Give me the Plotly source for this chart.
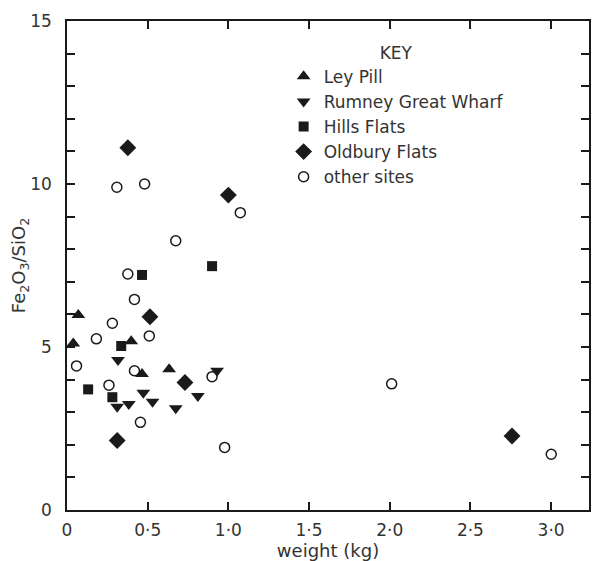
import plotly.graph_objects as go

# Data
ley_x = [0.070, 0.039, 0.398, 0.465, 0.633]
ley_y = [5.98, 5.11, 5.18, 4.17, 4.32]

rumney_x = [0.316, 0.930, 0.473, 0.811, 0.530, 0.383, 0.311, 0.674]
rumney_y = [4.60, 4.27, 3.60, 3.50, 3.32, 3.25, 3.17, 3.12]

hills_x = [0.899, 0.465, 0.336, 0.131, 0.281]
hills_y = [7.48, 7.21, 5.03, 3.70, 3.46]

oldbury_x = [0.377, 1.000, 0.514, 0.731, 0.311, 2.758]
oldbury_y = [11.11, 9.66, 5.93, 3.91, 2.13, 2.27]

other_x = [0.309, 0.481, 1.074, 0.674, 0.377, 0.418, 0.281, 0.182, 0.510,
           0.059, 0.418, 0.899, 0.260, 0.455, 0.977, 2.012, 3.001]
other_y = [9.90, 10.00, 9.12, 8.26, 7.24, 6.46, 5.73, 5.25, 5.34,
           4.42, 4.27, 4.09, 3.83, 2.69, 1.92, 3.87, 1.71]

x_tickvals = [0, 0.5, 1.0, 1.5, 2.0, 2.5, 3.0]
x_ticktext = ["0", "0·5", "1·0", "1·5", "2·0", "2·5", "3·0"]
y_tickvals = [0, 5, 10, 15]
y_ticktext = ["0", "5", "10", "15"]

INK = "#1a1a1a"
TXT = "#333"
FONT = "DejaVu Sans"

fig = go.Figure()
fig.add_trace(go.Scatter(x=ley_x, y=ley_y, mode="markers", name="Ley Pill",
                         marker=dict(symbol="triangle-up", size=12, color=INK)))
fig.add_trace(go.Scatter(x=rumney_x, y=rumney_y, mode="markers", name="Rumney Great Wharf",
                         marker=dict(symbol="triangle-down", size=12, color=INK)))
fig.add_trace(go.Scatter(x=hills_x, y=hills_y, mode="markers", name="Hills Flats",
                         marker=dict(symbol="square", size=10, color=INK)))
fig.add_trace(go.Scatter(x=oldbury_x, y=oldbury_y, mode="markers", name="Oldbury Flats",
                         marker=dict(symbol="diamond", size=13, color=INK)))
fig.add_trace(go.Scatter(x=other_x, y=other_y, mode="markers", name="other sites",
                         marker=dict(symbol="circle-open", size=10, color=INK,
                                     line=dict(width=1.5, color=INK))))

axis_common = dict(showgrid=False, zeroline=False, showline=True, linecolor=INK,
                   linewidth=1.5, ticks="inside", ticklen=8, tickwidth=1.5,
                   tickcolor=INK, mirror="ticks",
                   tickfont=dict(family=FONT, size=17, color=TXT))

fig.update_xaxes(range=[0, 3.235], tickmode="array", tickvals=x_tickvals,
                 ticktext=x_ticktext, ticklabelstandoff=4,
                 title=dict(text="weight (kg)", font=dict(family=FONT, size=18, color=TXT),
                            standoff=6),
                 **axis_common)
fig.update_yaxes(range=[0, 15], tickmode="array", tickvals=y_tickvals,
                 ticktext=y_ticktext, ticklabelstandoff=10,
                 minor=dict(dtick=1, ticks="inside", ticklen=8, tickwidth=1.5, tickcolor=INK),
                 title=dict(text="Fe<sub>2</sub>O<sub>3</sub>/SiO<sub>2</sub>",
                            font=dict(family=FONT, size=18, color=TXT), standoff=0),
                 **axis_common)

fig.update_layout(
    width=592, height=561,
    margin=dict(l=67, r=1, t=21, b=51),
    paper_bgcolor="white", plot_bgcolor="white",
    showlegend=True,
    legend=dict(x=0.415, y=0.968, xanchor="left", yanchor="top",
                title=dict(text="KEY", side="top center",
                           font=dict(family=FONT, size=17, color=TXT)),
                font=dict(family=FONT, size=17, color=TXT),
                bgcolor="rgba(0,0,0,0)", itemsizing="trace"),
)

fig.write_html("out.html")
